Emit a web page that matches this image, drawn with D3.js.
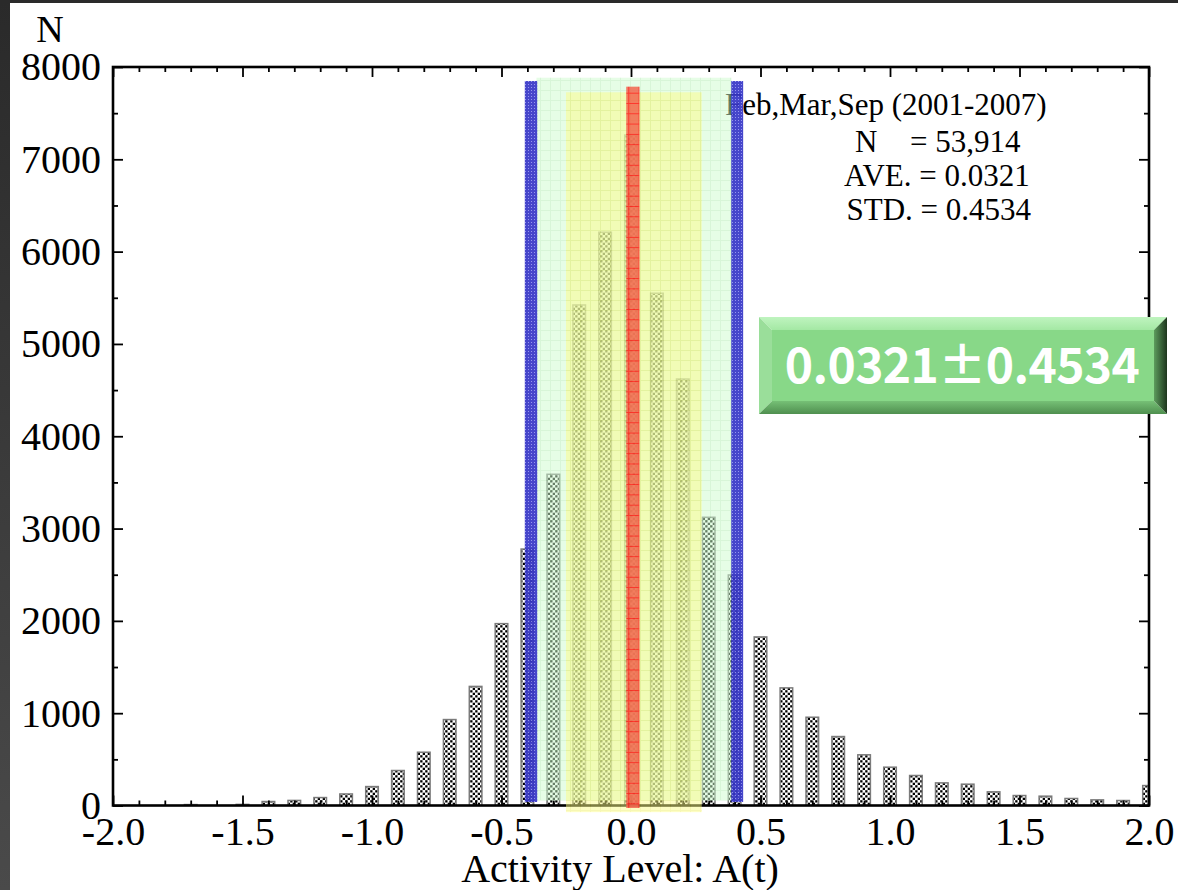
<!DOCTYPE html>
<html>
<head>
<meta charset="utf-8">
<script src="https://cdn.jsdelivr.net/npm/d3@7"></script>
<style>
  html, body { margin: 0; padding: 0; background: #fff; overflow: hidden; }
  svg { display: block; }
</style>
</head>
<body>
<svg id="chart" width="1178" height="890"></svg>
<script>
// Histogram of activity level A(t), bin centres every 0.1
const binCenters = [
  -2.0, -1.9, -1.8, -1.7, -1.6, -1.5, -1.4, -1.3, -1.2, -1.1,
  -1.0, -0.9, -0.8, -0.7, -0.6, -0.5, -0.4, -0.3, -0.2, -0.1,
   0.0,  0.1,  0.2,  0.3,  0.4,  0.5,  0.6,  0.7,  0.8,  0.9,
   1.0,  1.1,  1.2,  1.3,  1.4,  1.5,  1.6,  1.7,  1.8,  1.9, 2.0
];
const counts = [
     0,    0,    0,   10,    0,   12,   43,   55,   86,  125,
   205,  379,  577,  931, 1290, 1970, 2778, 3588, 5422, 6210,
  7263, 5549, 4620, 3122, 2497, 1826, 1274,  956,  747,  549,
   415,  325,  245,  231,  148,  108,  101,   76,   61,   54, 216
];

const xMajorTicks = [-2.0, -1.5, -1.0, -0.5, 0.0, 0.5, 1.0, 1.5, 2.0];
const xMinorTicks = [-1.9, -1.8, -1.7, -1.6, -1.4, -1.3, -1.2, -1.1, -0.9, -0.8, -0.7, -0.6,
                     -0.4, -0.3, -0.2, -0.1, 0.1, 0.2, 0.3, 0.4, 0.6, 0.7, 0.8, 0.9,
                     1.1, 1.2, 1.3, 1.4, 1.6, 1.7, 1.8, 1.9];
const yMajorTicks = [0, 1000, 2000, 3000, 4000, 5000, 6000, 7000, 8000];
const yMinorTicks = [500, 1500, 2500, 3500, 4500, 5500, 6500, 7500];

// Summary statistics
const statTitle = "Feb,Mar,Sep (2001-2007)";
const statN = ["N", "= 53,914"];
const statAve = "AVE. = 0.0321";
const statStd = "STD. = 0.4534";
const summaryLabel = "0.0321±0.4534";

// Highlight bands, in data units: [x0, x1, yTop, yBottom]
const greenBand  = [-0.365, 0.388, 7884, 54];
const yellowBand = [-0.251, 0.273, 7726, -72];
const redBand    = [-0.0185, 0.0328, 7787, -27];
const blueBands  = [[-0.410, -0.362, 7848, 38], [0.387, 0.433, 7848, 38]];

const W = 1178, H = 890;
const plot = { left: 113, right: 1149, top: 67, bottom: 805.5 };
const serif = "'Liberation Serif', 'Times New Roman', serif";

const svg = d3.select("#chart");
const x = d3.scaleLinear().domain([-2, 2]).range([plot.left, plot.right]);
const y = d3.scaleLinear().domain([0, 8000]).range([plot.bottom, plot.top]);

const defs = svg.append("defs");

// dark frame strip on the left
const lg = defs.append("linearGradient").attr("id", "edgeGrad")
  .attr("x1", 0).attr("y1", 0).attr("x2", 0).attr("y2", 1);
lg.append("stop").attr("offset", 0).attr("stop-color", "#2a2a2a");
lg.append("stop").attr("offset", 1).attr("stop-color", "#4a4a4a");

// dotted hatch for histogram bars
const hatch = defs.append("pattern").attr("id", "hatch")
  .attr("patternUnits", "userSpaceOnUse").attr("width", 5).attr("height", 5);
hatch.append("rect").attr("width", 5).attr("height", 5).attr("fill", "#fff");
hatch.append("rect").attr("x", 0.2).attr("y", 0.2).attr("width", 2.3).attr("height", 2.3).attr("fill", "#000");
hatch.append("rect").attr("x", 2.7).attr("y", 2.7).attr("width", 2.3).attr("height", 2.3).attr("fill", "#000");

function gridPattern(id, base, line, size) {
  const p = defs.append("pattern").attr("id", id)
    .attr("patternUnits", "userSpaceOnUse").attr("width", size).attr("height", size);
  p.append("rect").attr("width", size).attr("height", size).attr("fill", base);
  p.append("path").attr("d", `M0,0.5H${size}M0.5,0V${size}`)
    .attr("stroke", line).attr("stroke-width", 1).attr("fill", "none");
}
gridPattern("greenGrid", "#cdfacd", "#b0eab0", 10);
gridPattern("yellowGrid", "#fbfb86", "#eeee66", 10);
gridPattern("redGrid", "#f2664e", "#ff1414", 10.3);

const bp = defs.append("pattern").attr("id", "blueDots")
  .attr("patternUnits", "userSpaceOnUse").attr("width", 3).attr("height", 3);
bp.append("rect").attr("width", 3).attr("height", 3).attr("fill", "#3636c6");
bp.append("rect").attr("width", 1).attr("height", 1).attr("fill", "#8c8cee");

defs.append("clipPath").attr("id", "plotClip").append("rect")
  .attr("x", plot.left).attr("y", plot.top - 5)
  .attr("width", plot.right - plot.left).attr("height", plot.bottom - plot.top + 5);

// background + frame strips
svg.append("rect").attr("width", W).attr("height", H).attr("fill", "#fff");
svg.append("rect").attr("x", 0).attr("y", 0).attr("width", 10).attr("height", H).attr("fill", "url(#edgeGrad)");
svg.append("rect").attr("x", 0).attr("y", 0).attr("width", W).attr("height", 3).attr("fill", "#2a2a2a");

// histogram bars
const halfW = 0.0243;
svg.append("g").attr("clip-path", "url(#plotClip)")
  .selectAll("rect").data(binCenters.map((c, i) => ({ c, v: counts[i] })))
  .join("rect")
  .attr("x", d => x(d.c - halfW))
  .attr("width", d => x(d.c + halfW) - x(d.c - halfW))
  .attr("y", d => y(d.v))
  .attr("height", d => y(0) - y(d.v))
  .attr("fill", "url(#hatch)")
  .attr("stroke", d => d.v > 0 ? "#7a7a7a" : "none")
  .attr("stroke-width", 1.5);

// axes with inward ticks
function styleAxis(g) {
  g.select(".domain").remove();
  g.selectAll(".tick line").attr("stroke", "#000").attr("stroke-width", 1.8);
}
const fmt = d => d.toFixed(1);

svg.append("g").attr("transform", `translate(0,${plot.bottom})`)
  .call(d3.axisBottom(x).tickValues(xMinorTicks).tickSize(-5).tickFormat(""))
  .call(styleAxis);
const xAxisG = svg.append("g").attr("transform", `translate(0,${plot.bottom})`)
  .call(d3.axisBottom(x).tickValues(xMajorTicks).tickSize(-10).tickFormat(fmt))
  .call(styleAxis);
xAxisG.selectAll(".tick text")
  .attr("y", 39).attr("dy", 0)
  .attr("font-family", serif).attr("font-size", 40).attr("fill", "#000");

svg.append("g").attr("transform", `translate(0,${plot.top})`)
  .call(d3.axisTop(x).tickValues(xMinorTicks).tickSize(-5).tickFormat(""))
  .call(styleAxis);
svg.append("g").attr("transform", `translate(0,${plot.top})`)
  .call(d3.axisTop(x).tickValues(xMajorTicks).tickSize(-10).tickFormat(""))
  .call(styleAxis);

svg.append("g").attr("transform", `translate(${plot.left},0)`)
  .call(d3.axisLeft(y).tickValues(yMinorTicks).tickSize(-5).tickFormat(""))
  .call(styleAxis);
const yAxisG = svg.append("g").attr("transform", `translate(${plot.left},0)`)
  .call(d3.axisLeft(y).tickValues(yMajorTicks).tickSize(-10).tickPadding(12).tickFormat(d3.format("d")))
  .call(styleAxis);
yAxisG.selectAll(".tick text")
  .attr("dy", "0.32em")
  .attr("font-family", serif).attr("font-size", 40).attr("fill", "#000");

svg.append("g").attr("transform", `translate(${plot.right},0)`)
  .call(d3.axisRight(y).tickValues(yMinorTicks).tickSize(-5).tickFormat(""))
  .call(styleAxis);
svg.append("g").attr("transform", `translate(${plot.right},0)`)
  .call(d3.axisRight(y).tickValues(yMajorTicks).tickSize(-10).tickFormat(""))
  .call(styleAxis);

// plot frame
svg.append("rect")
  .attr("x", plot.left).attr("y", plot.top)
  .attr("width", plot.right - plot.left).attr("height", plot.bottom - plot.top)
  .attr("fill", "none").attr("stroke", "#000").attr("stroke-width", 2.6);

// statistics annotation
const stats = svg.append("g").attr("font-family", serif).attr("font-size", 31).attr("fill", "#000");
stats.append("text").attr("x", 725).attr("y", 115).text(statTitle);
const nLine = stats.append("text").attr("y", 151.5);
nLine.append("tspan").attr("x", 855).text(statN[0]);
nLine.append("tspan").attr("x", 910).text(statN[1]);
stats.append("text").attr("x", 844).attr("y", 186).text(statAve);
stats.append("text").attr("x", 846.5).attr("y", 220).text(statStd);

// translucent highlight bands
function band(b, fill, opacity) {
  svg.append("rect")
    .attr("x", x(b[0])).attr("width", x(b[1]) - x(b[0]))
    .attr("y", y(b[2])).attr("height", y(b[3]) - y(b[2]))
    .attr("fill", fill).attr("opacity", opacity);
}
band(greenBand, "url(#greenGrid)", 0.5);
band(yellowBand, "url(#yellowGrid)", 0.5);
band(redBand, "url(#redGrid)", 0.85);
blueBands.forEach(b => band(b, "url(#blueDots)", 0.92));

// bevelled summary box
const box = { x0: 759, x1: 1167, y0: 317, y1: 414, b: 13 };
const rg = defs.append("linearGradient").attr("id", "rightBevel")
  .attr("x1", 0).attr("y1", 0).attr("x2", 1).attr("y2", 0);
rg.append("stop").attr("offset", 0).attr("stop-color", "#5c9c5c");
rg.append("stop").attr("offset", 1).attr("stop-color", "#1e361e");
const tg = defs.append("linearGradient").attr("id", "topBevel")
  .attr("x1", 0).attr("y1", 0).attr("x2", 0).attr("y2", 1);
tg.append("stop").attr("offset", 0).attr("stop-color", "#bff4bf");
tg.append("stop").attr("offset", 1).attr("stop-color", "#a4e8a4");
const bg = defs.append("linearGradient").attr("id", "bottomBevel")
  .attr("x1", 0).attr("y1", 0).attr("x2", 0).attr("y2", 1);
bg.append("stop").attr("offset", 0).attr("stop-color", "#76c076");
bg.append("stop").attr("offset", 1).attr("stop-color", "#4f8f4f");

const bx = svg.append("g");
const { x0, x1, y0, y1, b } = box;
const poly = (pts, fill) => bx.append("polygon").attr("points", pts.map(p => p.join(",")).join(" ")).attr("fill", fill);
poly([[x0, y0], [x1, y0], [x1 - b, y0 + b], [x0 + b, y0 + b]], "url(#topBevel)");
poly([[x0, y0], [x0 + b, y0 + b], [x0 + b, y1 - b], [x0, y1]], "#9ade9a");
poly([[x0, y1], [x0 + b, y1 - b], [x1 - b, y1 - b], [x1, y1]], "url(#bottomBevel)");
poly([[x1, y0], [x1, y1], [x1 - b, y1 - b], [x1 - b, y0 + b]], "url(#rightBevel)");
bx.append("rect").attr("x", x0 + b).attr("y", y0 + b)
  .attr("width", x1 - x0 - 2 * b).attr("height", y1 - y0 - 2 * b).attr("fill", "#88d888");
bx.append("text")
  .attr("x", (x0 + x1) / 2 - 1).attr("y", 382.5)
  .attr("text-anchor", "middle")
  .attr("font-family", "'Noto Sans CJK JP', 'Noto Sans', sans-serif")
  .attr("font-size", 48).attr("font-weight", 700).attr("letter-spacing", -0.6)
  .attr("fill", "#fff")
  .text(summaryLabel);

// axis titles
svg.append("text").attr("x", 50).attr("y", 41.5).attr("text-anchor", "middle")
  .attr("font-family", serif).attr("font-size", 38).text("N");
svg.append("text").attr("x", 620).attr("y", 882).attr("text-anchor", "middle")
  .attr("font-family", serif).attr("font-size", 40).text("Activity Level: A(t)");
</script>
</body>
</html>
